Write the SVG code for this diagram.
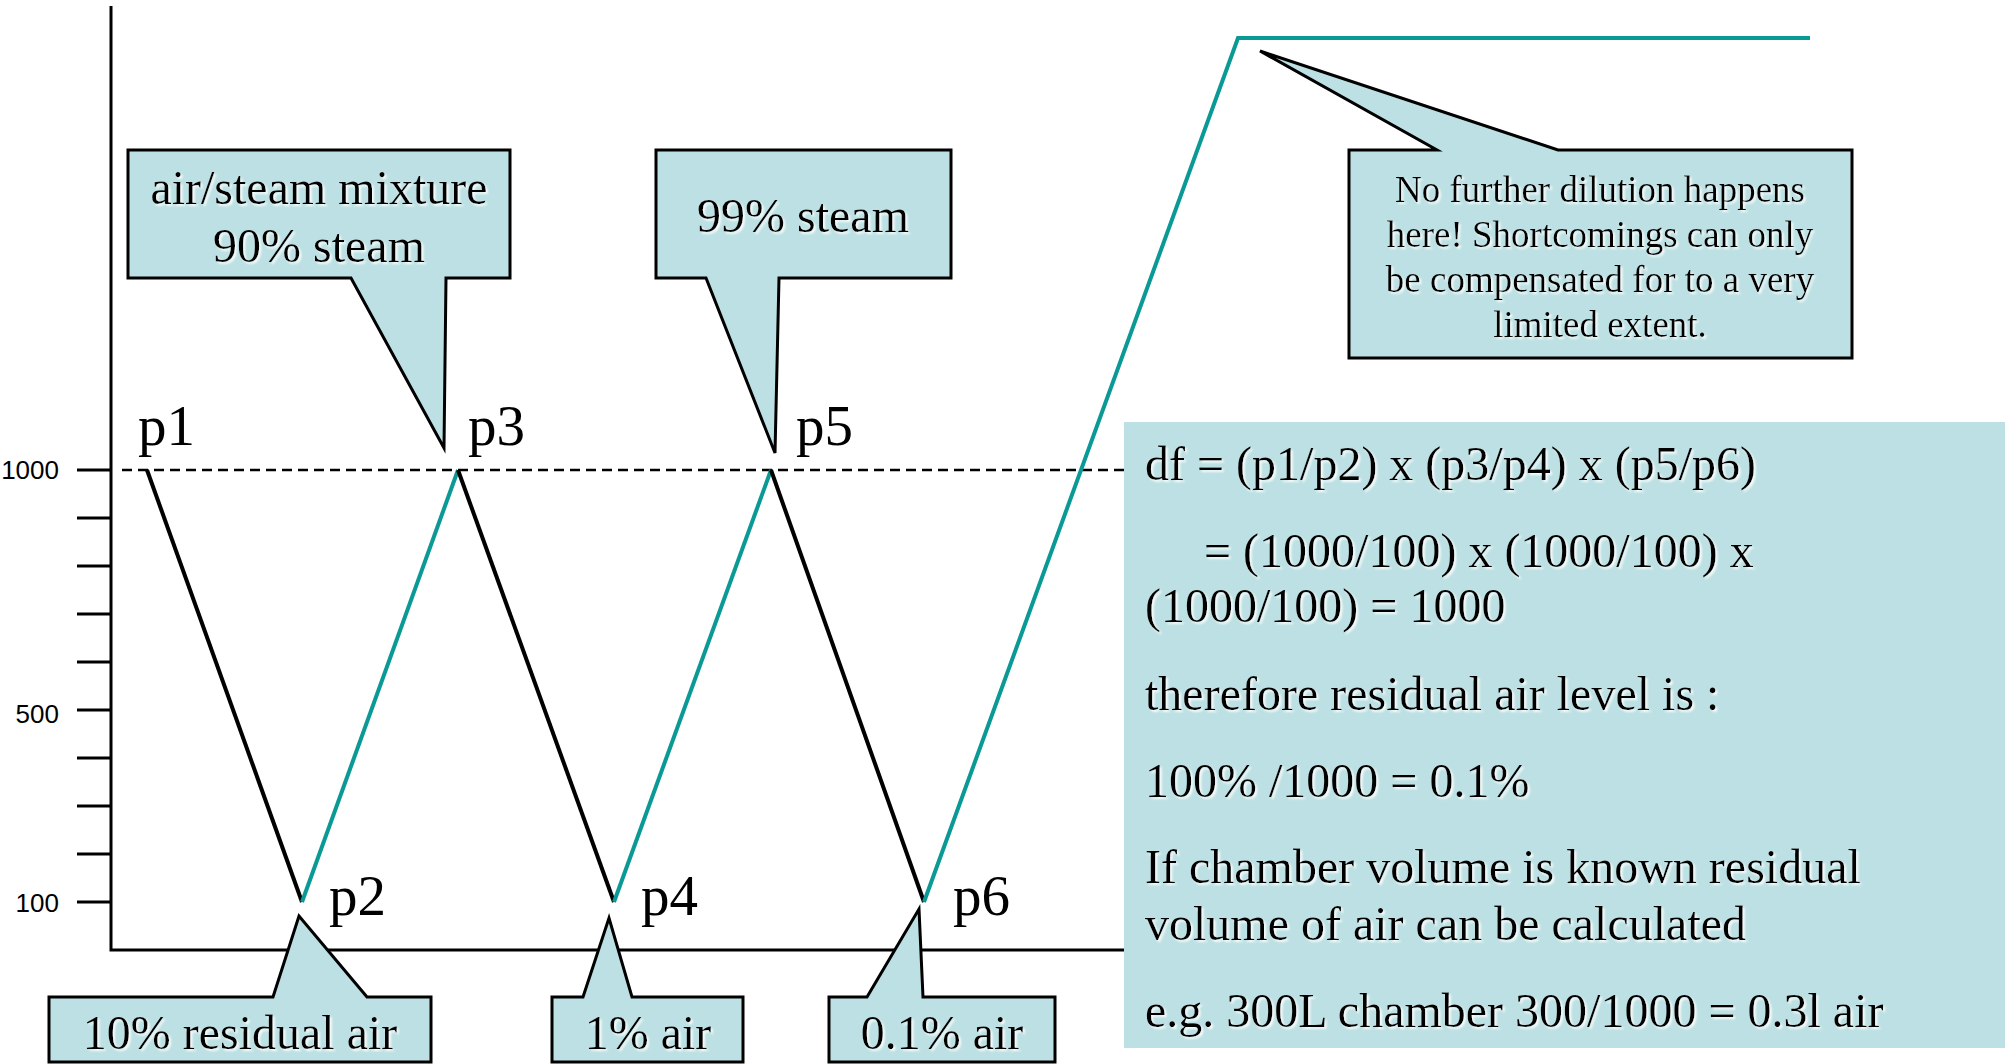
<svg xmlns="http://www.w3.org/2000/svg" width="2005" height="1064" viewBox="0 0 2005 1064">
  <defs>
    <filter id="glow" x="-5%" y="-20%" width="110%" height="140%">
      <feOffset in="SourceAlpha" dx="2" dy="2" result="off"/>
      <feGaussianBlur in="off" stdDeviation="1" result="blur"/>
      <feFlood flood-color="#ffffff" flood-opacity="0.9"/>
      <feComposite in2="blur" operator="in" result="shadow"/>
      <feMerge>
        <feMergeNode in="shadow"/>
        <feMergeNode in="SourceGraphic"/>
      </feMerge>
    </filter>
  </defs>
  <style>
    .axis { stroke: #000; stroke-width: 3; fill: none; }
    .tick { stroke: #000; stroke-width: 3; }
    .ticklbl { font-family: "Liberation Sans", Arial, sans-serif; font-size: 26px; fill: #000; text-anchor: end; }
    .dash { stroke: #000; stroke-width: 2.5; stroke-dasharray: 10 6; fill: none; }
    .down { stroke: #000; stroke-width: 4; fill: none; }
    .up { stroke: #0B9995; stroke-width: 4; fill: none; stroke-linejoin: miter; }
    .callout { fill: #BCE0E3; stroke: #000; stroke-width: 3; stroke-linejoin: miter; }
    .panel { fill: #BCE0E3; }
    .ctext { font-family: "Liberation Serif", "Times New Roman", serif; font-size: 48px; fill: #000; text-anchor: middle; filter: url(#glow); }
    .ntext { font-family: "Liberation Serif", "Times New Roman", serif; font-size: 37px; fill: #000; text-anchor: middle; filter: url(#glow); }
    .ptext { font-family: "Liberation Serif", "Times New Roman", serif; font-size: 48px; fill: #000; filter: url(#glow); }
    .plabel { font-family: "Liberation Serif", "Times New Roman", serif; font-size: 57px; fill: #000; }
  </style>

  <rect width="2005" height="1064" fill="#ffffff"/>

  <g id="axes">
    <polyline class="axis" points="111,6 111,950 1130,950"/>
    <g class="tick">
      <line x1="77" y1="470" x2="111" y2="470"/>
      <line x1="77" y1="518" x2="111" y2="518"/>
      <line x1="77" y1="566" x2="111" y2="566"/>
      <line x1="77" y1="614" x2="111" y2="614"/>
      <line x1="77" y1="662" x2="111" y2="662"/>
      <line x1="77" y1="710" x2="111" y2="710"/>
      <line x1="77" y1="758" x2="111" y2="758"/>
      <line x1="77" y1="806" x2="111" y2="806"/>
      <line x1="77" y1="854" x2="111" y2="854"/>
      <line x1="77" y1="902" x2="111" y2="902"/>
    </g>
    <text class="ticklbl" x="59" y="479">1000</text>
    <text class="ticklbl" x="59" y="723">500</text>
    <text class="ticklbl" x="59" y="912">100</text>
    <line class="dash" x1="122" y1="470" x2="1124" y2="470"/>
  </g>

  <g id="connectors">
    <line class="down" x1="147" y1="470" x2="302" y2="902"/>
    <line class="up" x1="302" y1="902" x2="458" y2="470"/>
    <line class="down" x1="458" y1="470" x2="614" y2="902"/>
    <line class="up" x1="614" y1="902" x2="771" y2="470"/>
    <line class="down" x1="771" y1="470" x2="924" y2="902"/>
    <polyline class="up" points="924,902 1238,38 1810,38"/>
  </g>

  <g id="point-labels">
    <text class="plabel" x="138" y="445">p1</text>
    <text class="plabel" x="329" y="915">p2</text>
    <text class="plabel" x="468" y="445">p3</text>
    <text class="plabel" x="641" y="915">p4</text>
    <text class="plabel" x="796" y="445">p5</text>
    <text class="plabel" x="953" y="915">p6</text>
  </g>

  <g id="callout-mixture">
    <path class="callout" d="M128,150 H510 V278 H446 L444,448 L351,278 H128 Z"/>
    <text class="ctext" x="319" y="204">air/steam mixture</text>
    <text class="ctext" x="319" y="262">90% steam</text>
  </g>

  <g id="callout-99steam">
    <path class="callout" d="M656,150 H951 V278 H779 L775,453 L706,278 H656 Z"/>
    <text class="ctext" x="803" y="232">99% steam</text>
  </g>

  <g id="callout-nofurther">
    <path class="callout" d="M1349,150 H1437 L1260,51 L1558,150 H1852 V358 H1349 Z"/>
    <text class="ntext" x="1600" y="202">No further dilution happens</text>
    <text class="ntext" x="1600" y="247">here! Shortcomings can only</text>
    <text class="ntext" x="1600" y="292">be compensated for to a very</text>
    <text class="ntext" x="1600" y="337">limited extent.</text>
  </g>

  <g id="callout-10pct">
    <path class="callout" d="M49,997 H273 L299,916 L367,997 H431 V1062 H49 Z"/>
    <text class="ctext" x="240" y="1049">10% residual air</text>
  </g>

  <g id="callout-1pct">
    <path class="callout" d="M552,997 H583 L609,918 L632,997 H743 V1062 H552 Z"/>
    <text class="ctext" x="648" y="1049">1% air</text>
  </g>

  <g id="callout-01pct">
    <path class="callout" d="M829,997 H867 L919,909 L923,997 H1055 V1062 H829 Z"/>
    <text class="ctext" x="942" y="1049">0.1% air</text>
  </g>

  <g id="calculation-panel">
    <rect class="panel" x="1124" y="422" width="881" height="626"/>
    <text class="ptext" x="1145" y="480">df = (p1/p2) x (p3/p4) x (p5/p6)</text>
    <text class="ptext" x="1204" y="567">= (1000/100) x (1000/100) x</text>
    <text class="ptext" x="1145" y="622">(1000/100) = 1000</text>
    <text class="ptext" x="1145" y="710">therefore residual air level is :</text>
    <text class="ptext" x="1145" y="797">100% /1000 = 0.1%</text>
    <text class="ptext" x="1145" y="883">If chamber volume is known residual</text>
    <text class="ptext" x="1145" y="940">volume of air can be calculated</text>
    <text class="ptext" x="1145" y="1027">e.g. 300L chamber 300/1000 = 0.3l air</text>
  </g>
</svg>
